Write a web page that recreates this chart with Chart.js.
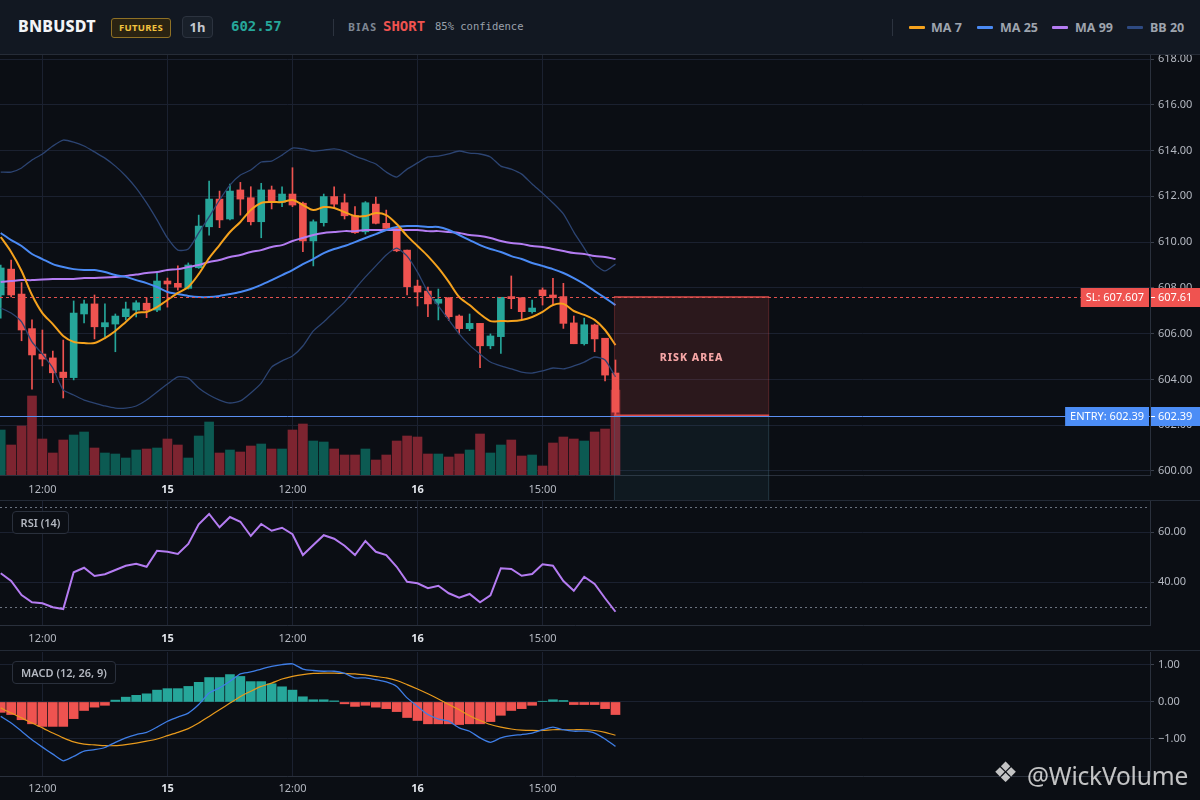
<!DOCTYPE html>
<html><head><meta charset="utf-8">
<script src="https://cdn.jsdelivr.net/npm/chart.js@4.4.1/dist/chart.umd.min.js"></script>
<style>
html,body{margin:0;padding:0;background:#0b0e14;width:1200px;height:800px;overflow:hidden;font-family:'Noto Sans',sans-serif}
.abs{position:absolute}
#header{left:0;top:0;width:1200px;height:55px;background:#121822;border-bottom:1px solid #262c37;box-sizing:border-box}
.sym{left:18px;top:15px;font:800 16px 'Noto Sans';color:#f2f4f7;letter-spacing:0.2px}
.fut{left:111px;top:18px;width:58px;height:18px;border:1px solid #8f7125;background:#2a2312;border-radius:3px;color:#f2c23e;font:700 9.5px 'Noto Sans';text-align:center;line-height:18px;letter-spacing:0.3px}
.tf{left:182px;top:16px;width:29px;height:20px;border:1px solid #2c333f;background:#19202a;border-radius:4px;color:#c3c7cf;font:700 13px 'Noto Sans';text-align:center;line-height:20px}
.px{left:231px;top:18px;font:700 14px 'DejaVu Sans Mono';color:#26a69a}
.vsep{width:1px;height:17px;background:#2c333f;top:19px}
.bias{left:348px;top:20px;font:700 10.5px 'Noto Sans';color:#7e8692;letter-spacing:1.3px}
.short{left:383px;top:18px;font:700 14px 'DejaVu Sans Mono';color:#ef5350}
.conf{left:435px;top:20px;font:400 10.5px 'DejaVu Sans Mono';color:#9aa1ac}
.lg{top:19px;font:700 12.5px 'Noto Sans';color:#9ea4ae}
.lgl{top:26px;width:16px;height:3px;border-radius:1px}
canvas{position:absolute;left:0}
.hsep{left:0;width:1200px;height:1px;background:#232a36}
.tag{left:12px;height:21px;border:1px solid #2a303c;border-radius:4px;background:rgba(11,14,20,0.9);color:#b4b8c1;font:600 11px 'Noto Sans';line-height:21px;text-align:center}
.wm{left:1027px;top:759px;font:400 24.5px 'Noto Sans';color:rgba(236,236,236,0.82);letter-spacing:-0.2px}
.wml{left:993px;top:756px;font:400 28px 'DejaVu Sans';color:rgba(236,236,236,0.82)}
</style></head>
<body>
<div id="header" class="abs">
  <div class="abs sym">BNBUSDT</div>
  <div class="abs fut">FUTURES</div>
  <div class="abs tf">1h</div>
  <div class="abs px">602.57</div>
  <div class="abs vsep" style="left:333px"></div>
  <div class="abs bias">BIAS</div>
  <div class="abs short">SHORT</div>
  <div class="abs conf">85% confidence</div>
  <div class="abs vsep" style="left:892px"></div>
  <div class="abs lgl" style="left:909px;background:#f5a21d"></div><div class="abs lg" style="left:931px">MA 7</div>
  <div class="abs lgl" style="left:977px;background:#4a8af4"></div><div class="abs lg" style="left:1000px">MA 25</div>
  <div class="abs lgl" style="left:1052px;background:#b47cf2"></div><div class="abs lg" style="left:1075px">MA 99</div>
  <div class="abs lgl" style="left:1127px;background:#2e4a82"></div><div class="abs lg" style="left:1150px">BB 20</div>
</div>
<canvas id="cMain" width="1200" height="445" style="top:55px"></canvas>
<canvas id="cRsi" width="1200" height="150" style="top:500px"></canvas>
<canvas id="cMacd" width="1200" height="150" style="top:650px"></canvas>
<div class="abs hsep" style="top:500px"></div>
<div class="abs hsep" style="top:650px"></div>
<div class="abs tag" style="top:511px;width:55px">RSI (14)</div>
<div class="abs tag" style="top:661px;width:102px">MACD (12, 26, 9)</div>
<div class="abs wml">❖</div>
<div class="abs wm">@WickVolume</div>
<script>
// ---------- data ----------
const timeLabels = ['12:00','15','12:00','16','15:00'];
const tickIdx = [4,16,28,40,52];
const dayLabel = [false,true,false,true,false];

const opens = [607.69,608.82,607.73,606.22,605.11,604.94,604.32,604.08,606.86,607.30,
606.30,606.42,606.74,607.03,607.33,607.03,608.30,608.20,607.98,608.88,
610.67,611.88,611.01,612.28,611.94,610.89,612.28,611.74,612.10,611.70,
610.05,610.85,611.99,611.72,611.15,610.45,611.66,610.82,610.60,609.65,
608.08,607.86,607.33,607.57,606.77,606.22,606.45,605.47,605.87,607.62,
607.57,606.96,607.91,607.69,607.62,606.47,605.56,606.38,605.80,604.28];
const closes = [608.87,607.69,606.16,605.07,604.89,604.29,604.08,606.90,607.30,606.30,
606.48,606.77,607.08,607.35,607.03,608.30,608.17,608.03,609.00,610.70,
611.88,610.97,612.23,611.88,610.89,612.28,611.74,612.10,611.62,610.05,
610.89,611.99,611.66,611.15,610.41,611.72,610.82,610.60,609.62,608.05,
607.82,607.30,607.50,606.74,606.22,606.45,605.47,605.90,607.59,607.53,
606.96,607.12,607.66,607.57,606.45,605.56,606.39,605.77,604.19,602.57];
const highs = [609.00,609.22,608.23,606.60,606.16,605.24,605.72,607.43,607.47,607.69,
607.30,606.86,607.38,607.44,607.57,608.69,608.43,608.96,609.09,611.18,
612.67,612.23,612.53,612.61,612.42,612.57,612.45,612.42,613.25,611.75,
610.97,612.10,612.42,612.10,611.55,611.77,611.97,611.40,610.60,609.65,
608.34,608.04,607.95,607.57,606.82,606.86,606.45,605.99,607.59,608.52,
607.57,607.47,608.00,608.42,608.20,606.77,606.68,606.42,605.80,604.85];
const lows = [606.68,607.60,605.69,603.58,604.59,603.86,603.19,603.98,606.47,605.77,
605.85,605.21,606.60,606.73,606.70,606.96,607.16,607.90,607.95,608.85,
610.30,610.63,610.97,611.18,610.75,610.19,611.45,611.55,611.55,609.58,
608.96,610.70,611.50,611.01,610.38,610.35,610.80,610.60,609.58,607.69,
607.21,606.74,606.60,606.57,605.99,606.13,604.51,605.34,605.14,607.09,
606.65,606.89,607.25,607.25,606.23,605.56,605.50,605.21,603.94,602.39];
const volumes = [2700,1800,2940,4740,2160,1320,2100,2400,2580,1620,
1320,1260,1020,1500,1560,1620,2160,1800,1020,2340,
3180,1320,1500,1380,1740,1860,1560,1560,2700,3060,
2040,1980,1560,1200,1200,1560,900,1200,2040,2340,
2280,1260,1260,1080,1260,1500,2460,1320,1800,2100,
1140,1200,540,1920,2280,2160,2040,2580,2760,5100];
const ma7 = [610.22,609.57,608.74,607.69,606.90,606.42,605.90,605.64,605.59,605.59,
605.81,606.12,606.51,606.90,606.95,607.16,607.47,607.78,608.04,608.60,
609.30,609.87,610.44,610.88,611.40,611.71,611.75,611.75,611.84,611.62,
611.40,611.53,611.49,611.31,611.14,611.14,611.27,611.18,610.79,610.27,
609.83,609.39,608.87,608.26,607.60,607.25,606.86,606.55,606.55,606.55,
606.60,606.73,606.95,607.25,607.30,606.99,606.82,606.60,606.16,605.50];
const ma25 = [610.40,610.09,609.83,609.48,609.26,609.04,608.91,608.82,608.78,608.78,
608.69,608.56,608.48,608.34,608.21,608.04,607.82,607.73,607.65,607.60,
607.60,607.65,607.73,607.82,607.95,608.13,608.34,608.56,608.78,609.04,
609.26,609.52,609.70,609.83,610.00,610.18,610.35,610.53,610.66,610.70,
610.70,610.66,610.66,610.53,610.31,610.09,609.87,609.70,609.57,609.39,
609.26,609.09,608.96,608.82,608.65,608.43,608.17,607.86,607.56,607.25];
const ma99 = [608.26,608.30,608.34,608.34,608.37,608.39,608.39,608.39,608.43,608.43,
608.45,608.48,608.52,608.58,608.65,608.69,608.78,608.82,608.91,609.00,
609.13,609.22,609.35,609.44,609.57,609.65,609.79,609.87,610.05,610.18,
610.31,610.40,610.44,610.48,610.48,610.53,610.53,610.53,610.53,610.53,
610.53,610.48,610.48,610.44,610.40,610.31,610.27,610.18,610.05,609.96,
609.92,609.83,609.79,609.70,609.61,609.52,609.48,609.39,609.35,609.26];
const bbUpper = [613.06,613.06,613.24,613.59,613.85,614.20,614.46,614.37,614.20,613.94,
613.67,613.32,612.89,612.36,611.71,610.97,610.18,609.65,609.70,610.40,
611.10,611.84,612.49,612.93,613.15,613.50,613.54,613.80,614.11,614.07,
613.98,614.02,614.07,613.98,613.76,613.59,613.41,613.06,612.84,613.19,
613.46,613.72,613.76,613.85,613.98,613.89,613.85,613.72,613.32,613.19,
612.97,612.54,612.14,611.71,611.23,610.44,609.74,609.04,608.74,609.04];
const bbLower = [607.12,606.90,606.51,605.64,605.11,604.50,603.54,603.32,603.10,602.97,
602.84,602.75,602.75,602.84,603.10,603.45,603.80,604.11,604.06,603.63,
603.32,603.10,602.97,603.06,603.41,603.84,604.54,604.81,605.02,605.46,
606.12,606.51,606.95,607.38,607.95,608.48,608.96,609.44,609.74,609.39,
608.69,607.82,607.21,606.60,605.99,605.50,605.11,604.76,604.59,604.46,
604.32,604.28,604.37,604.50,604.46,604.59,604.76,604.98,604.85,604.11];
const rsi = [43.5,40.4,34.8,31.9,31.5,29.9,29.2,43.9,45.7,42.4,
43.1,44.8,46.5,47.3,46.1,52.5,52.1,51.2,55.2,63.1,
67.2,61.9,66.0,64.1,58.4,63.2,60.5,61.7,59.1,50.8,
54.8,58.7,57.3,54.5,50.8,56.4,52.1,50.8,46.1,40.1,
39.5,37.5,38.5,35.5,33.7,35.2,31.9,34.7,45.5,45.2,
42.5,43.2,47.1,46.5,40.4,36.5,42.1,39.2,33.5,28.1];
const macdLine = [-0.39,-0.57,-0.79,-1.02,-1.22,-1.41,-1.59,-1.47,-1.33,-1.29,
-1.23,-1.09,-0.97,-0.88,-0.82,-0.68,-0.52,-0.41,-0.30,-0.07,
0.24,0.38,0.56,0.76,0.81,0.89,0.96,1.01,1.03,0.89,
0.85,0.83,0.83,0.77,0.65,0.65,0.60,0.54,0.42,0.11,
-0.12,-0.34,-0.46,-0.52,-0.70,-0.79,-0.97,-1.09,-0.97,-0.91,
-0.88,-0.84,-0.75,-0.68,-0.75,-0.79,-0.79,-0.84,-1.00,-1.20];
const macdSignal = [-0.16,-0.30,-0.43,-0.57,-0.70,-0.84,-0.97,-1.08,-1.14,-1.16,
-1.18,-1.18,-1.15,-1.11,-1.06,-1.00,-0.91,-0.82,-0.72,-0.57,
-0.39,-0.21,-0.03,0.15,0.29,0.42,0.51,0.62,0.69,0.74,
0.77,0.78,0.78,0.77,0.76,0.73,0.69,0.65,0.58,0.47,
0.35,0.22,0.08,-0.07,-0.21,-0.37,-0.50,-0.61,-0.68,-0.73,
-0.76,-0.77,-0.77,-0.75,-0.75,-0.75,-0.75,-0.77,-0.82,-0.90];
const macdHist = [-0.28,-0.34,-0.48,-0.59,-0.66,-0.66,-0.66,-0.45,-0.23,-0.14,
-0.09,0.05,0.13,0.18,0.22,0.32,0.36,0.36,0.42,0.53,
0.66,0.66,0.74,0.69,0.55,0.55,0.49,0.41,0.32,0.14,
0.06,0.06,0.03,-0.05,-0.12,-0.09,-0.14,-0.18,-0.26,-0.42,
-0.50,-0.59,-0.59,-0.59,-0.61,-0.59,-0.59,-0.53,-0.36,-0.23,
-0.18,-0.09,0.02,0.06,0.04,-0.07,-0.07,-0.07,-0.18,-0.34];
const priceTicks = [600,602,604,606,608,610,612,614,616,618];
const rsiTicks = [40,60];
const rsiLevels = [70,30];
const macdTicks = [-1,0,1];
const entryPrice = 602.39, slPrice = 607.607, slRounded = 607.61, tpPrice = 598.5;
const zoneStart = 58.85, zoneEnd = 73.75;

// ---------- styling ----------
const UP = '#26a69a', DN = '#ef5350', UPV = '#0c5a52', DNV = '#7d2430';
const GRID = '#1b2130', BORDER = '#2a303c', TXT = '#b4b8c1';
const X_MIN = -0.07, X_MAX = 110.3;
const idx = opens.map((_, i) => i);
const isUp = idx.map(i => closes[i] >= opens[i]);
const pts = arr => arr.map((v, i) => ({x: i, y: v}));

function xAxis(h, pad){
  return {type:'linear', position:'bottom', min:X_MIN, max:X_MAX, bounds:'data', offset:false,
    afterBuildTicks: s => { s.ticks = tickIdx.map(v => ({value:v})); },
    afterFit: s => { s.height = h; s.paddingLeft = 0; s.paddingRight = 0; },
    grid:{color:GRID, drawTicks:false, offset:false}, border:{color:BORDER},
    ticks:{autoSkip:false, maxRotation:0, padding:pad,
      callback:(v, i) => timeLabels[i],
      color: c => dayLabel[c.index] ? '#e3e6ec' : TXT,
      font: c => ({family:'Noto Sans', size:11, weight: dayLabel[c.index] ? 'bold' : 'normal'})}};
}
function yAxis(min, max, tickVals, fmt){
  return {type:'linear', position:'right', min, max, bounds:'data', beginAtZero:false,
    afterBuildTicks: s => { s.ticks = tickVals.map(v => ({value:v})); },
    afterFit: s => { s.width = 50; s.paddingTop = 0; s.paddingBottom = 0; },
    grid:{color:GRID, drawTicks:true, tickLength:4, tickColor:'#3a404c'}, border:{color:BORDER},
    ticks:{padding:4, color:TXT, font:{family:'Noto Sans', size:11}, callback: fmt}};
}
const baseOpts = (padTop) => ({responsive:false, animation:false, events:[],
  layout:{padding:{top:padTop,left:0,right:0,bottom:0}, autoPadding:false},
  plugins:{legend:{display:false}, tooltip:{enabled:false}}});

// ---------- overlay plugin: trade zones ----------
const tradePlugin = {
  id:'trade',
  afterDatasetsDraw(chart){
    const {ctx, chartArea:a, scales:{x, y}} = chart;
    const ySL = y.getPixelForValue(slPrice), yEn = y.getPixelForValue(entryPrice), yTP = y.getPixelForValue(tpPrice);
    const x0 = x.getPixelForValue(zoneStart), x1 = x.getPixelForValue(zoneEnd);
    ctx.save();
    ctx.fillStyle = 'rgba(60,130,150,0.10)';
    ctx.fillRect(x0, yEn, x1 - x0, yTP - yEn);
    ctx.strokeStyle = 'rgba(70,110,130,0.35)'; ctx.lineWidth = 1;
    ctx.beginPath(); ctx.moveTo(x0 + 0.5, yEn); ctx.lineTo(x0 + 0.5, yTP); ctx.moveTo(x1 - 0.5, yEn); ctx.lineTo(x1 - 0.5, yTP); ctx.stroke();
    ctx.fillStyle = 'rgba(239,83,80,0.14)';
    ctx.fillRect(x0, ySL, x1 - x0, yEn - ySL);
    ctx.strokeStyle = 'rgba(239,83,80,0.22)';
    ctx.beginPath(); ctx.moveTo(x0 + 0.5, ySL); ctx.lineTo(x0 + 0.5, yEn); ctx.moveTo(x1 - 0.5, ySL); ctx.lineTo(x1 - 0.5, yEn); ctx.stroke();
    ctx.strokeStyle = '#d94b49'; ctx.lineWidth = 1.5;
    ctx.beginPath(); ctx.moveTo(x0, ySL); ctx.lineTo(x1, ySL); ctx.moveTo(x0, yEn - 1); ctx.lineTo(x1, yEn - 1); ctx.stroke();
    ctx.fillStyle = '#f5a5a5'; ctx.font = '800 10.5px "Noto Sans"'; ctx.textAlign = 'center'; ctx.textBaseline = 'middle';
    try { ctx.letterSpacing = '1px'; } catch(e) {}
    ctx.fillText('RISK AREA', (x0 + x1) / 2, (ySL + yEn) / 2 + 1);
    try { ctx.letterSpacing = '0px'; } catch(e) {}
    ctx.strokeStyle = '#e3524f'; ctx.lineWidth = 1; ctx.setLineDash([3, 3]);
    ctx.beginPath(); ctx.moveTo(a.left, Math.round(ySL) + 0.5); ctx.lineTo(a.right, Math.round(ySL) + 0.5); ctx.stroke();
    ctx.setLineDash([]);
    ctx.strokeStyle = '#5b8ff2'; ctx.lineWidth = 1;
    ctx.beginPath(); ctx.moveTo(a.left, Math.round(yEn) + 0.5); ctx.lineTo(a.right, Math.round(yEn) + 0.5); ctx.stroke();
    ctx.restore();
  },
  afterDraw(chart){
    const {ctx, chartArea:a, scales:{y}} = chart;
    const tags = [
      {p: slPrice, left: 'SL: ' + slPrice.toFixed(3), right: slRounded.toFixed(2), col: '#ef5350'},
      {p: entryPrice, left: 'ENTRY: ' + entryPrice.toFixed(2), right: entryPrice.toFixed(2), col: '#4c8df6'}
    ];
    ctx.save();
    ctx.font = '11px "Noto Sans"'; ctx.textBaseline = 'middle'; ctx.textAlign = 'left';
    tags.forEach(t => {
      const yc = Math.round(y.getPixelForValue(t.p));
      const w = ctx.measureText(t.left).width + 10;
      ctx.fillStyle = t.col;
      ctx.fillRect(a.right - 1 - w, yc - 9, w, 19);
      ctx.fillRect(a.right + 1, yc - 9, chart.width - a.right - 1, 19);
      ctx.fillStyle = '#ffffff';
      ctx.fillText(t.left, a.right - 1 - w + 5, yc + 1);
      ctx.fillText(t.right, a.right + 8, yc + 1);
      ctx.fillRect(a.right + 1, yc, 4, 1);
    });
    ctx.restore();
  }
};

// ---------- main price chart ----------
new Chart(document.getElementById('cMain'), {
  type:'line',
  data:{datasets:[
    {type:'line', data:pts(ma7), borderColor:'#f5a21d', borderWidth:2, pointRadius:0, tension:0.3, order:0},
    {type:'line', data:pts(ma25), borderColor:'#4a8af4', borderWidth:2, pointRadius:0, tension:0.3, order:1},
    {type:'line', data:pts(ma99), borderColor:'#b47cf2', borderWidth:2, pointRadius:0, tension:0.3, order:2},
    {type:'line', data:pts(bbUpper), borderColor:'#2c4472', borderWidth:1.3, pointRadius:0, tension:0.2, order:3},
    {type:'line', data:pts(bbLower), borderColor:'#2c4472', borderWidth:1.3, pointRadius:0, tension:0.2, order:3},
    {type:'bar', data:idx.map(i => ({x:i, y:[opens[i], closes[i]]})), backgroundColor:idx.map(i => isUp[i] ? UP : DN),
      barThickness:7, grouped:false, minBarLength:1.5, order:4},
    {type:'bar', data:idx.map(i => ({x:i, y:[lows[i], highs[i]]})), backgroundColor:idx.map(i => isUp[i] ? UP : DN),
      barThickness:1, grouped:false, order:5},
    {type:'bar', yAxisID:'yVol', data:idx.map(i => ({x:i, y:volumes[i]})), backgroundColor:idx.map(i => isUp[i] ? UPV : DNV),
      barThickness:9, grouped:false, order:6}
  ]},
  options: Object.assign(baseOpts(0), {
    scales:{
      x: xAxis(25, 8),
      y: yAxis(599.825, 618.175, priceTicks, v => v.toFixed(2)),
      yVol: {type:'linear', display:false, min:0, max:25200, offset:false}
    }
  }),
  plugins:[tradePlugin]
});

// ---------- RSI ----------
const rsiLevelPlugin = {
  id:'rsiLevels',
  beforeDatasetsDraw(chart){
    const {ctx, chartArea:a, scales:{y}} = chart;
    ctx.save(); ctx.strokeStyle = '#6b7280'; ctx.lineWidth = 1; ctx.setLineDash([2, 3]);
    rsiLevels.forEach(l => { const yy = Math.round(y.getPixelForValue(l)) + 0.5; ctx.beginPath(); ctx.moveTo(a.left, yy); ctx.lineTo(a.right, yy); ctx.stroke(); });
    ctx.restore();
  }
};
new Chart(document.getElementById('cRsi'), {
  type:'line',
  data:{datasets:[{data:pts(rsi), borderColor:'#b57cf2', borderWidth:2, pointRadius:0, tension:0}]},
  options: Object.assign(baseOpts(1), {
    scales:{x: xAxis(25, 7), y: yAxis(22.8, 72.4, rsiTicks, v => v.toFixed(2))}
  }),
  plugins:[rsiLevelPlugin]
});

// ---------- MACD ----------
new Chart(document.getElementById('cMacd'), {
  type:'line',
  data:{datasets:[
    {type:'line', data:pts(macdLine), borderColor:'#3f7ee6', borderWidth:1.3, pointRadius:0, tension:0.2, order:0},
    {type:'line', data:pts(macdSignal), borderColor:'#e89a1c', borderWidth:1.2, pointRadius:0, tension:0.2, order:1},
    {type:'bar', data:pts(macdHist), backgroundColor:macdHist.map(v => v >= 0 ? UP : DN), barThickness:9, grouped:false, order:2}
  ]},
  options: Object.assign(baseOpts(2), {
    scales:{x: xAxis(24, 6), y: yAxis(-2.0, 1.35, macdTicks, v => (v < 0 ? '\u2212' : '') + Math.abs(v).toFixed(2))}
  })
});
</script>
</body></html>
